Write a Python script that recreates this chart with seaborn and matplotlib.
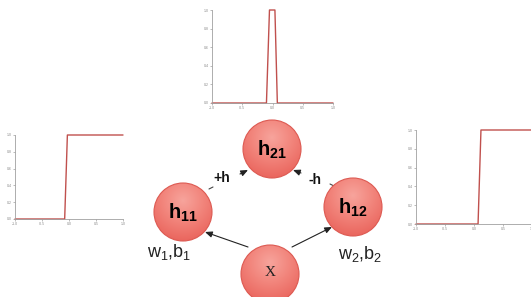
import numpy as np
import matplotlib
matplotlib.use("Agg")
import matplotlib.pyplot as plt
import seaborn as sns
from matplotlib.patches import Circle
from matplotlib.colors import LinearSegmentedColormap

# ---- data ----
x_ticks = [-1.0, -0.5, 0.0, 0.5, 1.0]
y_ticks = [0.0, 0.2, 0.4, 0.6, 0.8, 1.0]
x_ticklabels = ["-1.0", "-0.5", "0.0", "0.5", "1.0"]
y_ticklabels = ["0.0", "0.2", "0.4", "0.6", "0.8", "1.0"]

step1_x = [-1.0, -0.08, -0.03, 1.0]
step1_y = [0.0, 0.0, 1.0, 1.0]
step2_x = [-1.0, 0.07, 0.12, 1.0]
step2_y = [0.0, 0.0, 1.0, 1.0]
pulse_x = [-1.0, -0.10, -0.05, 0.04, 0.08, 1.0]
pulse_y = [0.0, 0.0, 1.0, 1.0, 0.0, 0.0]

node_labels = [r"$\mathbf{h_{21}}$", r"$\mathbf{h_{11}}$", r"$\mathbf{h_{12}}$", "X"]
edge_labels = ["+h", "-h"]
param_labels = [r"w$_1$,b$_1$", r"w$_2$,b$_2$"]

sns.set_theme(style="ticks")
plt.rcParams["font.family"] = ["Liberation Sans", "DejaVu Sans"]
plt.rcParams["mathtext.fontset"] = "custom"
plt.rcParams["mathtext.rm"] = "Liberation Sans"
plt.rcParams["mathtext.bf"] = "Liberation Sans:bold"
plt.rcParams["mathtext.it"] = "Liberation Sans:italic"

W, H = 531, 297
fig = plt.figure(figsize=(W / 100, H / 100), dpi=100)
fig.patch.set_facecolor("white")

LINE = "#c0504d"
SPINE = "#a0a0a0"


def small_axes(l, r, t, b, xs, ys):
    ax = fig.add_axes([l / W, 1 - b / H, (r - l) / W, (b - t) / H])
    sns.lineplot(x=xs, y=ys, ax=ax, color=LINE, linewidth=1.0, sort=False)
    ax.set_xlim(-1, 1)
    ax.set_ylim(0, 1)
    ax.set_xticks(x_ticks)
    ax.set_xticklabels(x_ticklabels)
    ax.set_yticks(y_ticks)
    ax.set_yticklabels(y_ticklabels)
    ax.tick_params(labelsize=2.5, length=1.5, width=0.5, pad=0.8,
                   colors=SPINE, labelcolor="#888888")
    for s in ["top", "right"]:
        ax.spines[s].set_visible(False)
    for s in ["left", "bottom"]:
        ax.spines[s].set_color(SPINE)
        ax.spines[s].set_linewidth(0.6)
    ax.patch.set_alpha(0)
    for ln in ax.lines:
        ln.set_clip_on(False)
    return ax


small_axes(212, 333, 10, 103, pulse_x, pulse_y)
small_axes(15, 123, 135, 219, step1_x, step1_y)
small_axes(416, 532, 130, 224, step2_x, step2_y)

# ---- network diagram ----
dax = fig.add_axes([0, 0, 1, 1])
dax.set_xlim(0, W)
dax.set_ylim(H, 0)
dax.axis("off")
dax.patch.set_alpha(0)

nodes = [(272, 149), (183, 212), (353, 207), (270, 274)]
R = 29
cmap = LinearSegmentedColormap.from_list("g", ["#f7a49c", "#f2857c", "#ea665e"])
for (cx, cy), lab in zip(nodes, node_labels):
    yy, xx = np.mgrid[-1:1:200j, -1:1:200j]
    d = np.sqrt(xx ** 2 + (yy + 0.4) ** 2) / 1.4
    im = dax.imshow(d, cmap=cmap, vmin=0, vmax=1,
                    extent=[cx - R, cx + R, cy + R, cy - R], zorder=2,
                    interpolation="bilinear")
    c = Circle((cx, cy), R, facecolor="none", edgecolor="#dd5a52", lw=0.8, zorder=3)
    dax.add_patch(c)
    im.set_clip_path(c)
    if lab == "X":
        dax.text(cx, cy - 1, lab, fontsize=11, family="Liberation Serif",
                 ha="center", va="center", zorder=4, color="#222222")
    else:
        dax.text(cx, cy + 1, lab, fontsize=14.5, ha="center", va="center",
                 zorder=4, color="black")

AST = "-|>,head_length=0.35,head_width=0.15"
arrows = [((248, 247), (205, 232)), ((292, 247), (332, 227)),
          ((240, 174), (248, 170)), ((301, 173), (293, 170))]
for (x0, y0), (x1, y1) in arrows:
    dax.annotate("", xy=(x1, y1), xytext=(x0, y0),
                 arrowprops=dict(arrowstyle=AST, color="#222222", lw=0.8,
                                 shrinkA=0, shrinkB=0),
                 zorder=1)
# stubs of the h11->h21 and h12->h21 edges (rest hidden behind labels)
dax.plot([209, 213], [189, 187], color="#444444", lw=0.8, zorder=1)
dax.plot([330, 334], [184, 186], color="#444444", lw=0.8, zorder=1)

dax.text(222, 178, edge_labels[0], fontsize=10, fontweight="bold", ha="center",
         va="center", zorder=5, color="#111111")
dax.text(315, 180, edge_labels[1], fontsize=10, fontweight="bold", ha="center",
         va="center", zorder=5, color="#111111")
dax.text(169, 252, param_labels[0], fontsize=13, ha="center", va="center", color="#222222")
dax.text(360, 254, param_labels[1], fontsize=13, ha="center", va="center", color="#222222")

fig.savefig("out.png", dpi=100, facecolor="white")
